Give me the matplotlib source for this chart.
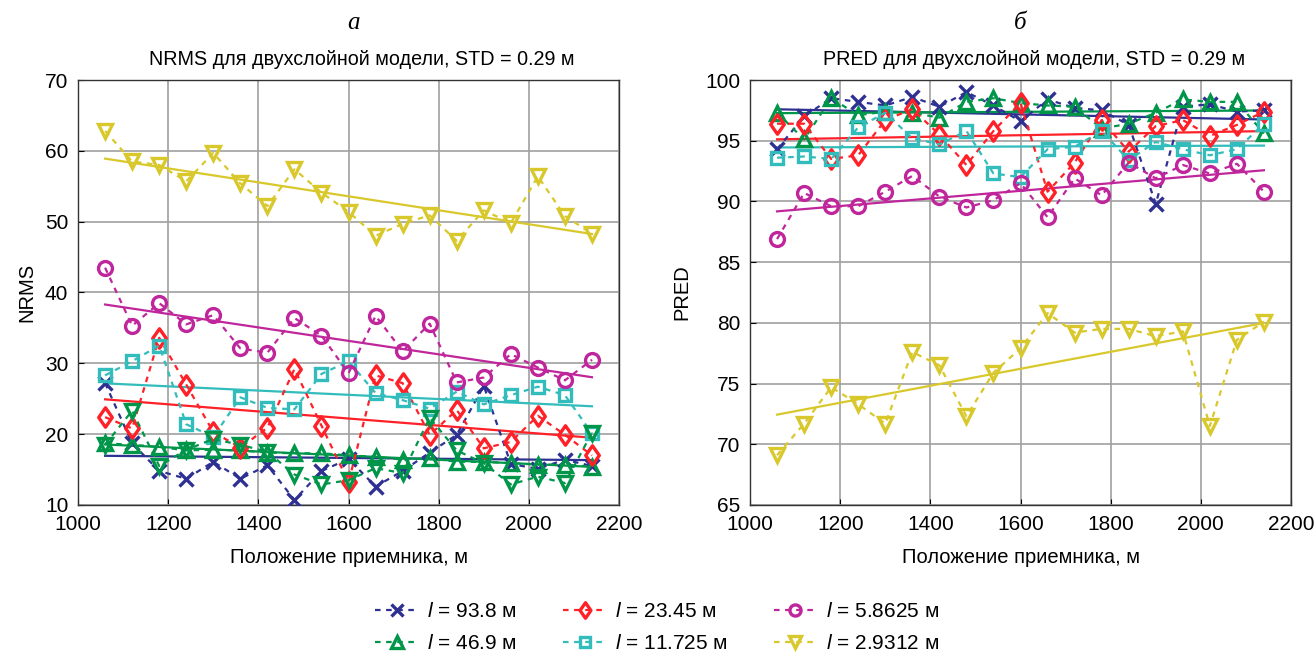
import numpy as np
import matplotlib
matplotlib.use("Agg")
import matplotlib.pyplot as plt
from matplotlib.path import Path

plt.rcParams['font.family'] = ['Liberation Sans', 'DejaVu Sans']
plt.rcParams['mathtext.fontset'] = 'custom'
plt.rcParams['mathtext.it'] = 'Liberation Sans:italic'
plt.rcParams['mathtext.rm'] = 'Liberation Sans'

# положения приемника, м
x = np.arange(1060, 2141, 60)

labels = ["93.8", "46.9", "23.45", "11.725", "5.8625", "2.9312"]
colors = ["#2e3192", "#00964a", "#ff2028", "#33bcbc", "#c0269c", "#d8c82c"]

# ромб как в MATLAB: чуть выше, чем шире
diamond = Path([(0, 1), (0.7, 0), (0, -1), (-0.7, 0), (0, 1)],
               [Path.MOVETO, Path.LINETO, Path.LINETO, Path.LINETO,
                Path.CLOSEPOLY])
markers = ["x", "^", diamond, "s", "o", "v"]
msizes = [10, 10, 14, 8.5, 10, 10]

# NRMS (левая панель)
nrms_93 = [27.2, 18.7, 14.8, 13.7, 16.1, 13.7, 15.6, 10.7, 14.8, 16.5,
           12.6, 14.8, 17.4, 19.9, 26.8, 15.8, 15.1, 16.4, 15.5]
nrms_47 = [18.7, 18.5, 18.2, 17.7, 17.8, 17.7, 17.4, 17.3, 17.3, 17.0,
           16.8, 16.4, 16.6, 16.1, 16.1, 15.9, 15.7, 15.7, 15.4]
nrms_23 = [22.4, 20.8, 33.6, 27.0, 20.3, 18.1, 20.9, 29.2, 21.2, 13.2,
           28.3, 27.2, 19.9, 23.4, 18.0, 18.9, 22.6, 19.9, 17.0]
nrms_12 = [28.3, 30.3, 32.5, 21.4, 19.6, 25.2, 23.7, 23.5, 28.5, 30.3,
           25.8, 24.8, 23.6, 26.0, 24.2, 25.5, 26.7, 25.5, 20.1]
nrms_6 = [43.5, 35.3, 38.5, 35.5, 36.8, 32.1, 31.5, 36.4, 33.9, 28.6,
          36.7, 31.7, 35.6, 27.3, 28.0, 31.3, 29.4, 27.6, 30.5]
nrms_3 = [62.8, 58.5, 58.0, 55.7, 59.7, 55.4, 52.2, 57.4, 54.1, 51.4,
          48.0, 49.7, 50.9, 47.3, 51.6, 49.8, 56.4, 50.8, 48.3]
# лишняя зеленая кривая (треугольники вниз) на левой панели
nrms_extra = [18.5, 23.3, 15.5, 17.8, 19.3, 18.5, 17.5, 14.3, 12.9, 13.5,
              15.2, 14.5, 22.3, 17.7, 15.9, 12.9, 14.0, 13.1, 20.2]

# PRED (правая панель)
pred_93 = [94.3, 97.0, 98.5, 98.2, 97.9, 98.6, 97.8, 99.0, 97.9, 96.6,
           98.4, 97.7, 97.5, 96.3, 89.8, 97.8, 98.0, 97.4, 97.5]
pred_47 = [97.3, 95.1, 98.5, 97.1, 97.4, 97.3, 96.9, 98.2, 98.5, 98.1,
           97.9, 97.8, 96.0, 96.4, 97.3, 98.4, 98.2, 98.2, 95.6]
pred_23 = [96.4, 96.4, 93.5, 93.8, 96.7, 97.6, 95.5, 93.0, 95.8, 98.1,
           90.8, 93.2, 96.7, 94.1, 96.2, 96.7, 95.4, 96.3, 97.4]
pred_12 = [93.6, 93.7, 93.5, 96.1, 97.3, 95.2, 94.7, 95.8, 92.3, 92.0,
           94.3, 94.5, 95.8, 93.4, 94.9, 94.3, 93.8, 94.3, 96.4]
pred_6 = [86.9, 90.7, 89.6, 89.6, 90.8, 92.1, 90.4, 89.5, 90.1, 91.5,
          88.7, 91.9, 90.5, 93.2, 91.9, 93.0, 92.3, 93.1, 90.8]
pred_3 = [69.1, 71.7, 74.7, 73.3, 71.7, 77.6, 76.5, 72.3, 75.9, 77.9,
          80.8, 79.2, 79.5, 79.5, 78.9, 79.3, 71.5, 78.6, 80.1]

nrms = [nrms_93, nrms_47, nrms_23, nrms_12, nrms_6, nrms_3]
pred = [pred_93, pred_47, pred_23, pred_12, pred_6, pred_3]

fig = plt.figure(figsize=(13.14, 6.52), dpi=100)
ax1 = fig.add_axes([0.0594, 0.2255, 0.4117, 0.6518])
ax2 = fig.add_axes([0.5708, 0.2255, 0.4117, 0.6518])


def draw(ax, data, extra=None):
    handles = []
    for vals, lab, c, m, ms in zip(data, labels, colors, markers, msizes):
        h, = ax.plot(x, vals, linestyle=(0, (2.5, 2.5)), lw=1.6, color=c,
                     marker=m, ms=ms, mfc="none", mew=2.4,
                     label=r"$l$ = " + lab + " м", zorder=3)
        handles.append(h)
    if extra is not None:
        ax.plot(x, extra, linestyle=(0, (2.5, 2.5)), lw=1.6, color=colors[1],
                marker="v", ms=10, mfc="none", mew=2.4, zorder=3)
    # линейные тренды
    for vals, c in zip(data, colors):
        k, b = np.polyfit(x, vals, 1)
        ax.plot(x, k * x + b, color=c, lw=1.6, zorder=2)
    ax.set_xlim(1000, 2200)
    ax.set_xticks(np.arange(1000, 2201, 200))
    ax.grid(True, color="#a0a0a0", lw=1.2)
    ax.set_axisbelow(True)
    ax.tick_params(direction="in", labelsize=15, length=4, pad=7)
    for s in ax.spines.values():
        s.set_color("#333333")
        s.set_linewidth(1.0)
    ax.set_xlabel("Положение приемника, м", fontsize=14.5, labelpad=10)
    return handles


handles = draw(ax1, nrms, nrms_extra)
ax1.set_ylim(10, 70)
ax1.set_ylabel("NRMS", fontsize=14.5, labelpad=6)
ax1.set_title("NRMS для двухслойной модели, STD = 0.29 м", fontsize=14.2,
              pad=11, x=0.525)

draw(ax2, pred)
ax2.set_ylim(65, 100)
ax2.set_yticks(np.arange(65, 101, 5))
ax2.set_ylabel("PRED", fontsize=14.5, labelpad=10)
ax2.set_title("PRED для двухслойной модели, STD = 0.29 м", fontsize=14.2,
              pad=11, x=0.525)

for ax, letter, lx in [(ax1, "а", 0.51), (ax2, "б", 0.5)]:
    ax.text(lx, 1.135, letter, transform=ax.transAxes, ha="center",
            va="center", fontsize=18, style="italic",
            family="Liberation Serif")

fig.legend(handles=handles, ncol=3, loc="lower center",
           bbox_to_anchor=(0.5, -0.03), frameon=False, fontsize=15,
           handlelength=2.1, handletextpad=0.4, columnspacing=2.2,
           labelspacing=0.6, markerscale=0.8)

fig.savefig("out.png", dpi=100)
